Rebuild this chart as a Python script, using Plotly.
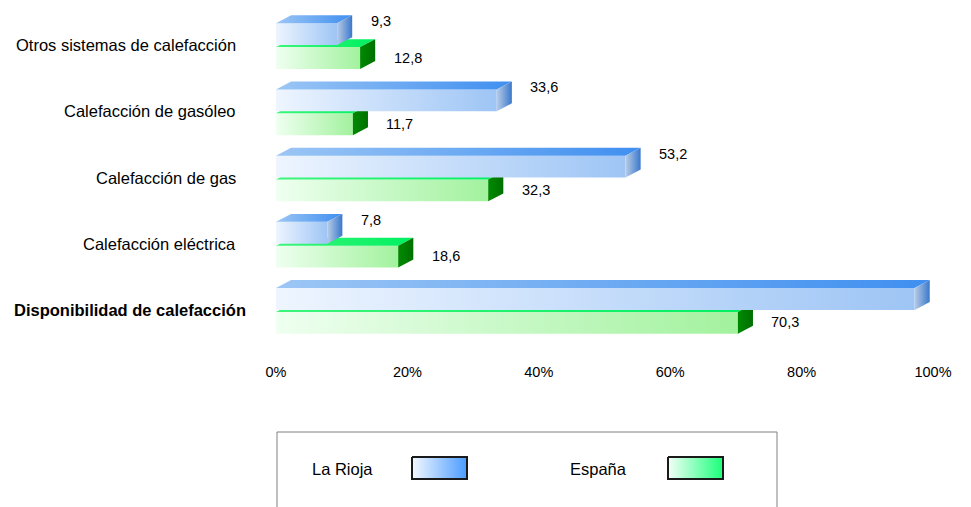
import plotly.graph_objects as go

# datos
categorias = ["Otros sistemas de calefacción", "Calefacción de gasóleo",
              "Calefacción de gas", "Calefacción eléctrica",
              "Disponibilidad de calefacción"]
la_rioja = [9.3, 33.6, 53.2, 7.8, 97.2]
espana = [12.8, 11.7, 32.3, 18.6, 70.3]
ticks_x = [0, 20, 40, 60, 80, 100]
series = ["La Rioja", "España"]

# la página añade 8px de margen: la figura ocupa el resto de la ventana
OFF = 8
W, H = 971 - OFF, 507 - OFF
FUENTE = "Liberation Sans, Arial, sans-serif"


def px(x):
    return (x - OFF) / W


def py(y):
    return 1 - (y - OFF) / H


# profundidad del efecto 3D (en unidades de los ejes)
dx = 2.3
dy = 0.12
alto = 0.33

estilos = {
    "La Rioja": dict(frente=["#eef5ff", "#9ec5f5"], arriba=["#9cc6f5", "#3f8ff0"],
                     lado=["#b8cce6", "#3a78cc"], leyenda=["#f4f9ff", "#4a9cff"]),
    "España": dict(frente=["#effff0", "#a2f29e"], arriba=["#3cf57a", "#00f060"],
                   lado=["#008a00", "#007000"], leyenda=["#f4fff8", "#1aff7a"]),
}

fig = go.Figure()


def poligono(xs, ys, colores):
    fig.add_trace(go.Scatter(
        x=xs + [xs[0]], y=ys + [ys[0]], mode="lines", fill="toself",
        line=dict(width=0, color=colores[1]),
        fillgradient=dict(type="horizontal",
                          colorscale=[[0, colores[0]], [1, colores[1]]]),
        hoverinfo="skip", showlegend=False))


def barra(v, y0, est):
    y1 = y0 + alto
    # frente
    poligono([0, v, v, 0], [y0, y0, y1, y1], est["frente"])
    # cara superior
    poligono([0, v, v + dx, dx], [y1, y1, y1 + dy, y1 + dy], est["arriba"])
    # cara lateral
    poligono([v, v + dx, v + dx, v], [y0, y0 + dy, y1 + dy, y1], est["lado"])


n = len(categorias)
anot = []
for k, cat in enumerate(categorias):
    i = n - 1 - k
    barra(espana[k], i - 0.03 - alto, estilos["España"])
    barra(la_rioja[k], i, estilos["La Rioja"])
    anot.append(dict(x=la_rioja[k] + 4.8, y=i + 0.36, xref="x", yref="y",
                     text=f"{la_rioja[k]:.1f}".replace(".", ","),
                     showarrow=False, xanchor="left", yanchor="middle",
                     font=dict(size=14.5, color="black", family=FUENTE)))
    anot.append(dict(x=espana[k] + 4.8, y=i - 0.19, xref="x", yref="y",
                     text=f"{espana[k]:.1f}".replace(".", ","),
                     showarrow=False, xanchor="left", yanchor="middle",
                     font=dict(size=14.5, color="black", family=FUENTE)))
    negrita = k == n - 1
    anot.append(dict(x=px(248 if negrita else 238), y=i, xref="paper", yref="y",
                     text=f"<b>{cat}</b>" if negrita else cat,
                     showarrow=False, xanchor="right", yanchor="middle",
                     font=dict(size=16.5, color="black", family=FUENTE)))

# leyenda (ejes auxiliares en píxeles de la figura)
leyenda_x = [(310, 412), (568, 668)]
for s, (xt, xs) in zip(series, leyenda_x):
    fig.add_trace(go.Scatter(
        x=[xs - OFF, xs + 55 - OFF, xs + 55 - OFF, xs - OFF, xs - OFF],
        y=[457 - OFF, 457 - OFF, 479 - OFF, 479 - OFF, 457 - OFF],
        mode="lines", fill="toself", xaxis="x2", yaxis="y2",
        line=dict(width=2, color="#1a1a1a"),
        fillgradient=dict(type="horizontal",
                          colorscale=[[0, estilos[s]["leyenda"][0]],
                                      [1, estilos[s]["leyenda"][1]]]),
        hoverinfo="skip", showlegend=False))
    anot.append(dict(x=px(xt), y=py(469), xref="paper", yref="paper",
                     text=s, showarrow=False, xanchor="left", yanchor="middle",
                     font=dict(size=16.5, color="black", family=FUENTE)))

fig.add_shape(type="rect", xref="paper", yref="paper",
              x0=px(277), x1=px(777), y0=-0.05, y1=py(432),
              line=dict(color="#808080", width=1), fillcolor="rgba(0,0,0,0)",
              layer="below")

fig.update_layout(
    width=W, height=H,
    margin=dict(l=0, r=0, t=0, b=0, pad=0),
    paper_bgcolor="white", plot_bgcolor="rgba(0,0,0,0)",
    font=dict(family=FUENTE, color="black"),
    annotations=anot,
    xaxis=dict(domain=[px(276), px(933)], range=[0, 100], tickvals=ticks_x,
               ticktext=[f"{t}%" for t in ticks_x], showgrid=False,
               zeroline=False, showline=False, ticks="", ticklabelstandoff=18,
               tickfont=dict(size=14.5, color="black"), automargin=False,
               fixedrange=True),
    yaxis=dict(domain=[py(343), py(12)], range=[-0.5, n - 0.5],
               showticklabels=False, showgrid=False, zeroline=False,
               showline=False, ticks="", automargin=False, fixedrange=True),
    xaxis2=dict(domain=[0, 1], range=[0, W], visible=False, anchor="y2",
                automargin=False),
    yaxis2=dict(domain=[0, 1], range=[H, 0], visible=False, anchor="x2",
                automargin=False),
)

fig.write_html("out.html")
